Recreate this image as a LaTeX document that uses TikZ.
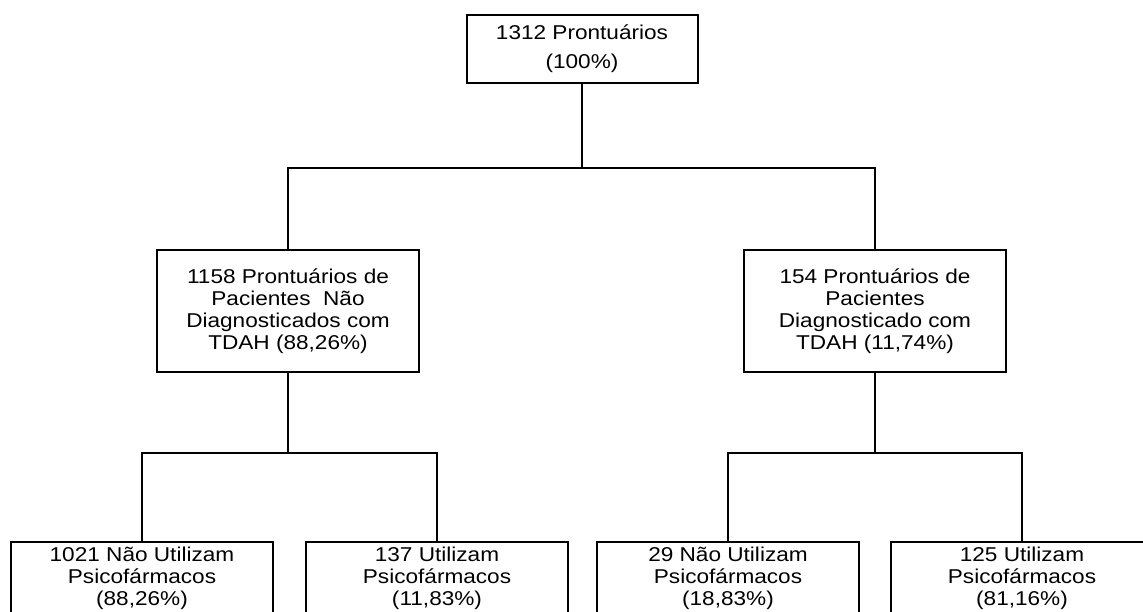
\documentclass[tikz,border=0pt]{standalone}
\usepackage{fontspec}
\setmainfont{Liberation Sans}[FakeStretch=1.13]
\usepackage{tikz}

\begin{document}
\begin{tikzpicture}[x=1pt,y=-1pt,
  caixa/.style={draw,line width=2pt,align=center,inner sep=0pt,
    font=\fontsize{20}{22}\selectfont},
  liga/.style={line width=2.4pt}]
\clip (0,0) rectangle (1143,611);

\node[caixa,minimum width=231,minimum height=68] (total) at (582,49)
  {1312 Prontuários\\[7pt](100\%)};

\node[caixa,minimum width=262,minimum height=122] (naodiag) at (288,311)
  {1158 Prontuários de\\Pacientes\ \ Não\\Diagnosticados com\\TDAH (88,26\%)};
\node[caixa,minimum width=262,minimum height=122] (diag) at (875,311)
  {154 Prontuários de\\Pacientes\\Diagnosticado com\\TDAH (11,74\%)};

\node[caixa,minimum width=262,minimum height=72] (nd1) at (142,578)
  {1021 Não Utilizam\\Psicofármacos\\(88,26\%)};
\node[caixa,minimum width=262,minimum height=72] (nd2) at (437,578)
  {137 Utilizam\\Psicofármacos\\(11,83\%)};
\node[caixa,minimum width=262,minimum height=72] (d1) at (728,578)
  {29 Não Utilizam\\Psicofármacos\\(18,83\%)};
\node[caixa,minimum width=262,minimum height=72] (d2) at (1022,578)
  {125 Utilizam\\Psicofármacos\\(81,16\%)};

\coordinate (j0) at (582,168);
\coordinate (j1) at (288,453);
\coordinate (j2) at (875,453);

\draw[liga] (total.south) -- (j0);
\draw[liga] (naodiag.north) |- (j0) -| (diag.north);

\draw[liga] (naodiag.south) -- (j1);
\draw[liga] (nd1.north) |- (j1) -| (nd2.north);

\draw[liga] (diag.south) -- (j2);
\draw[liga] (d1.north) |- (j2) -| (d2.north);

\end{tikzpicture}
\end{document}
